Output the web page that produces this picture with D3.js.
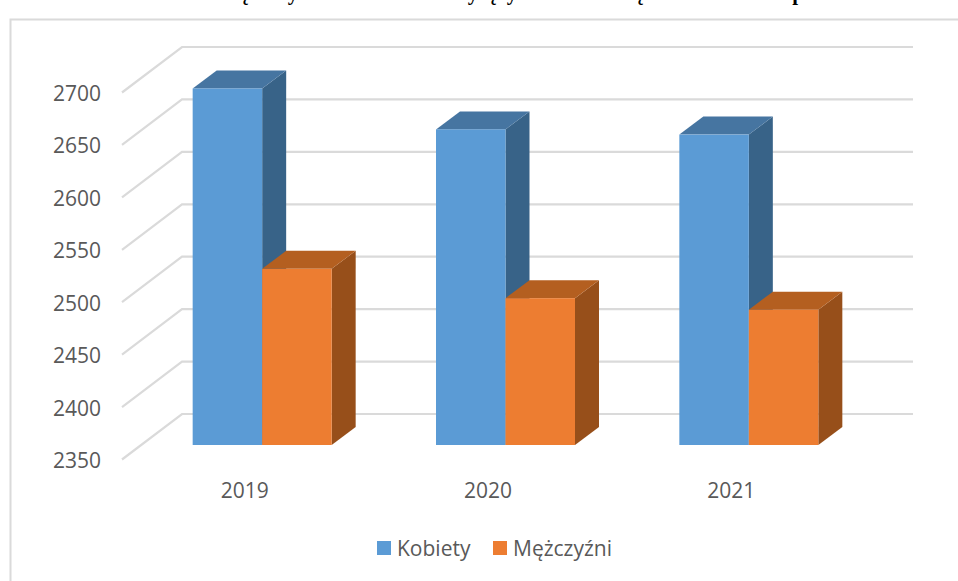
<!DOCTYPE html>
<html>
<head>
<meta charset="utf-8">
<script src="https://cdnjs.cloudflare.com/ajax/libs/d3/7.8.5/d3.min.js"></script>
<style>
html,body{margin:0;padding:0;background:#fff;overflow:hidden}
svg{display:block}
text{font-family:"Open Sans",sans-serif;fill:#595959}
</style>
</head>
<body>
<svg id="c" width="958" height="581"></svg>
<script>
const categories = ["2019", "2020", "2021"];
const seriesNames = ["Kobiety", "Mężczyźni"];
const kobiety = [2690, 2651, 2646];
const mezczyzni = [2518, 2490, 2479];
const yTicks = [2350, 2400, 2450, 2500, 2550, 2600, 2650, 2700];
const titleGlyphs = ["ę", "y", "y", "ę", "y", "ę", "p"];
const titleGlyphX = [244, 293, 473, 492, 512, 639, 798];

const frontColors = ["#5B9BD5", "#ED7D31"];
const topColors = ["#4675A1", "#B45F20"];
const sideColors = ["#386388", "#974F1A"];
const gridColor = "#DADADA";

const svg = d3.select("#c");

// clipped title: only the descenders remain on the page, as in the reference
svg.append("g").selectAll("text").data(titleGlyphs).join("text")
  .attr("x", (d, i) => titleGlyphX[i]).attr("y", 0)
  .attr("text-anchor", "middle")
  .style("font-family", '"Liberation Serif",serif').style("font-weight", "bold")
  .style("font-size", "21px").style("fill", "#000")
  .text(d => d);

// frame (cut by the picture on the right and at the bottom)
svg.append("path").attr("d", "M10.5,581V19.5H958")
  .attr("fill", "none").attr("stroke", gridColor).attr("stroke-width", 2);

// scales on the back wall of the 3D box
const y = d3.scaleLinear().domain([2350, 2700]).range([414, 47]);
const x = d3.scaleBand().domain(categories).range([140.5, 870.5]);

const depthX = 60, depthY = 45.5;        // floor depth of the axes
const barDX = 24, barDY = 18;            // depth of a bar
const barW = 69.5;
const barFloor = 31;                     // front of bars sits this far below the back wall

// gridlines: wall line + floor diagonal
svg.append("g").selectAll("path").data(yTicks).join("path")
  .attr("d", d => {
    const p = d3.path();
    p.moveTo(182 - depthX, y(d) + depthY);
    p.lineTo(182, y(d));
    p.lineTo(913, y(d));
    return p.toString();
  })
  .attr("fill", "none").attr("stroke", gridColor).attr("stroke-width", 2.2);

// y axis labels
svg.append("g").selectAll("text").data(yTicks).join("text")
  .attr("x", 101).attr("y", d => y(d) + depthY + 8.5)
  .attr("text-anchor", "end").style("font-size", "21px").text(d => d);

// x axis labels
svg.append("g").selectAll("text").data(categories).join("text")
  .attr("x", d => x(d) + x.bandwidth() / 2 - 17.5).attr("y", 498)
  .attr("text-anchor", "middle").style("font-size", "21px").text(d => d);

// bars
function drawBar(g, cat, value, s) {
  const left = x(cat) + x.bandwidth() / 2 + (s - 1) * barW;
  const right = left + barW;
  const top = y(value) + barFloor;
  const bottom = y(2350) + barFloor;
  g.append("path").attr("fill", sideColors[s])
    .attr("d", `M${right},${top}L${right + barDX},${top - barDY}L${right + barDX},${bottom - barDY}L${right},${bottom}Z`);
  g.append("path").attr("fill", topColors[s])
    .attr("d", `M${left},${top}L${left + barDX},${top - barDY}L${right + barDX},${top - barDY}L${right},${top}Z`);
  g.append("rect").attr("fill", frontColors[s])
    .attr("x", left).attr("y", top).attr("width", barW).attr("height", bottom - top);
}
const bars = svg.append("g");
categories.forEach((c, i) => {
  drawBar(bars, c, kobiety[i], 0);
  drawBar(bars, c, mezczyzni[i], 1);
});

// legend
const legendX = [377, 493];
const legend = svg.append("g").selectAll("g").data(seriesNames).join("g")
  .attr("transform", (d, i) => `translate(${legendX[i]},541)`);
legend.append("rect").attr("width", 14).attr("height", 14).attr("fill", (d, i) => frontColors[i]);
legend.append("text").attr("x", 20).attr("y", 14.5).style("font-size", "21px").text(d => d);
</script>
</body>
</html>
